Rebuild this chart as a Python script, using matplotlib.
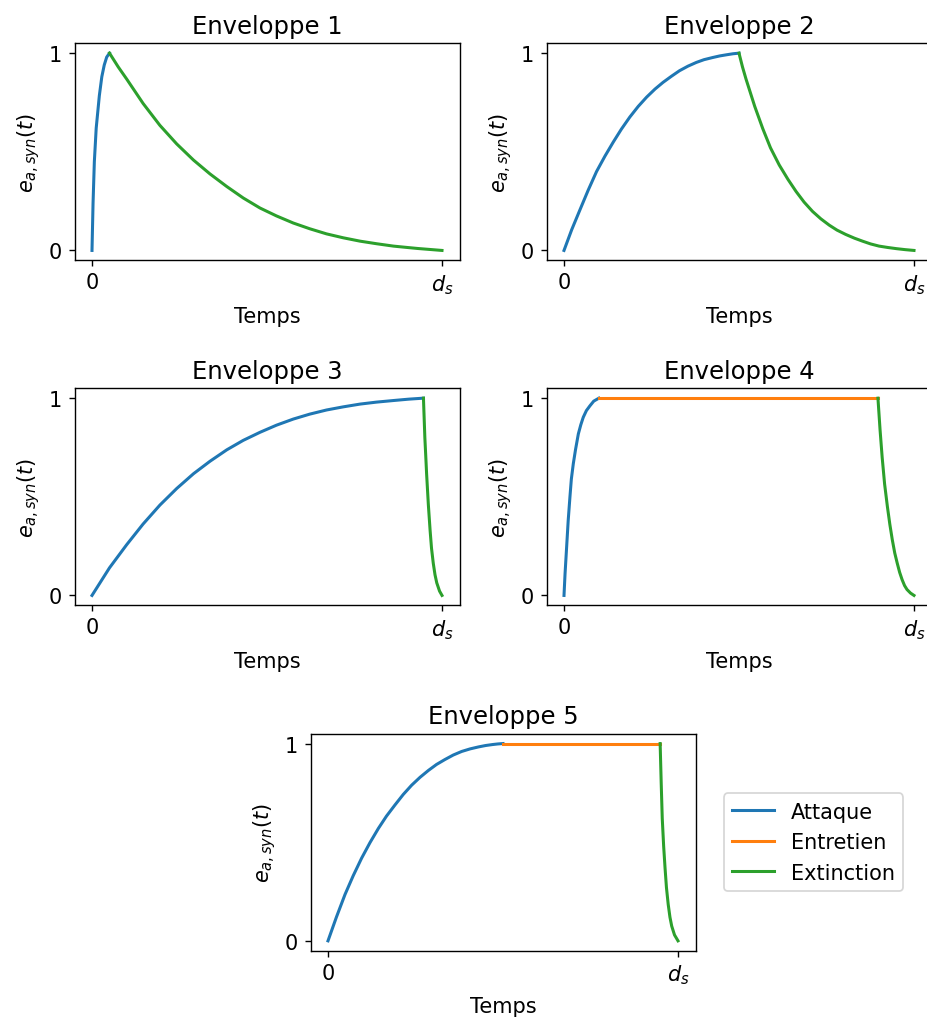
import matplotlib
matplotlib.use("Agg")
import matplotlib.pyplot as plt

# Valeurs (temps normalisé : 0 -> d_s = 1)
titres = ["Enveloppe 1", "Enveloppe 2", "Enveloppe 3", "Enveloppe 4", "Enveloppe 5"]

# Enveloppe 1
att1_t = [0, 0.003, 0.0067, 0.012, 0.021, 0.028, 0.035, 0.042, 0.05]
att1_e = [0, 0.24, 0.45, 0.62, 0.785, 0.88, 0.94, 0.98, 1.0]
ext1_t = [0.05, 0.075, 0.099, 0.146, 0.194, 0.242, 0.29, 0.337, 0.385, 0.432, 0.48, 0.527,
          0.575, 0.622, 0.67, 0.718, 0.766, 0.813, 0.861, 0.895, 0.93, 0.965, 1.0]
ext1_e = [1.0, 0.93, 0.869, 0.745, 0.634, 0.54, 0.458, 0.388, 0.324, 0.266, 0.215, 0.175,
          0.139, 0.11, 0.084, 0.064, 0.047, 0.034, 0.022, 0.016, 0.01, 0.005, 0.0]

# Enveloppe 2
att2_t = [0, 0.022, 0.0456, 0.069, 0.093, 0.117, 0.141, 0.164, 0.188, 0.212, 0.236, 0.26,
          0.283, 0.307, 0.33, 0.354, 0.378, 0.40, 0.425, 0.445, 0.465, 0.483, 0.5]
att2_e = [0, 0.105, 0.206, 0.305, 0.40, 0.478, 0.55, 0.615, 0.676, 0.73, 0.777, 0.818,
          0.852, 0.883, 0.911, 0.934, 0.953, 0.967, 0.978, 0.986, 0.992, 0.997, 1.0]
ext2_t = [0.5, 0.51, 0.52, 0.545, 0.568, 0.59, 0.615, 0.64, 0.663, 0.686, 0.71, 0.734,
          0.758, 0.78, 0.805, 0.83, 0.853, 0.876, 0.9, 0.925, 0.95, 0.975, 1.0]
ext2_e = [1.0, 0.93, 0.869, 0.73, 0.617, 0.52, 0.433, 0.36, 0.299, 0.245, 0.198, 0.16,
          0.128, 0.103, 0.081, 0.062, 0.047, 0.033, 0.022, 0.015, 0.009, 0.004, 0.0]

# Enveloppe 3
att3_t = [0, 0.05, 0.099, 0.146, 0.194, 0.242, 0.29, 0.337, 0.385, 0.432, 0.48, 0.527,
          0.575, 0.622, 0.67, 0.718, 0.766, 0.813, 0.861, 0.905, 0.947]
att3_e = [0, 0.14, 0.257, 0.362, 0.458, 0.542, 0.617, 0.68, 0.738, 0.786, 0.827, 0.863,
          0.894, 0.919, 0.94, 0.956, 0.97, 0.98, 0.988, 0.995, 1.0]
ext3_t = [0.947, 0.951, 0.9535, 0.956, 0.961, 0.966, 0.97, 0.975, 0.98, 0.985, 0.993, 1.0]
ext3_e = [1.0, 0.80, 0.71, 0.617, 0.46, 0.33, 0.24, 0.164, 0.105, 0.064, 0.022, 0.0]

# Enveloppe 4
att4_t = [0, 0.003, 0.0076, 0.012, 0.017, 0.021, 0.0266, 0.033, 0.041, 0.048, 0.055,
          0.064, 0.074, 0.085, 0.0997]
att4_e = [0, 0.11, 0.248, 0.38, 0.5, 0.59, 0.668, 0.74, 0.819, 0.865, 0.903,
          0.937, 0.961, 0.985, 1.0]
ent4_t = [0.0997, 0.897]
ent4_e = [1.0, 1.0]
ext4_t = [0.897, 0.903, 0.909, 0.916, 0.924, 0.931, 0.938, 0.945, 0.952, 0.959, 0.966,
          0.973, 0.98, 0.99, 1.0]
ext4_e = [1.0, 0.84, 0.701, 0.565, 0.45, 0.36, 0.282, 0.215, 0.164, 0.117, 0.08,
          0.05, 0.03, 0.012, 0.0]

# Enveloppe 5
att5_t = [0, 0.024, 0.0486, 0.072, 0.096, 0.12, 0.144, 0.167, 0.191, 0.215, 0.239, 0.263,
          0.287, 0.31, 0.334, 0.358, 0.382, 0.406, 0.43, 0.45, 0.47, 0.485, 0.5]
att5_e = [0, 0.12, 0.235, 0.33, 0.419, 0.498, 0.57, 0.632, 0.688, 0.742, 0.789, 0.829,
          0.864, 0.894, 0.919, 0.942, 0.96, 0.973, 0.983, 0.99, 0.995, 0.998, 1.0]
ent5_t = [0.5, 0.949]
ent5_e = [1.0, 1.0]
ext5_t = [0.949, 0.952, 0.955, 0.959, 0.963, 0.967, 0.972, 0.977, 0.982, 0.99, 1.0]
ext5_e = [1.0, 0.80, 0.621, 0.48, 0.369, 0.27, 0.185, 0.12, 0.075, 0.03, 0.0]

segments = [
    [(att1_t, att1_e, "Attaque"), (ext1_t, ext1_e, "Extinction")],
    [(att2_t, att2_e, "Attaque"), (ext2_t, ext2_e, "Extinction")],
    [(att3_t, att3_e, "Attaque"), (ext3_t, ext3_e, "Extinction")],
    [(att4_t, att4_e, "Attaque"), (ent4_t, ent4_e, "Entretien"), (ext4_t, ext4_e, "Extinction")],
    [(att5_t, att5_e, "Attaque"), (ent5_t, ent5_e, "Entretien"), (ext5_t, ext5_e, "Extinction")],
]
couleurs = {"Attaque": "tab:blue", "Entretien": "tab:orange", "Extinction": "tab:green"}

W, H = 927, 1021
fig = plt.figure(figsize=(W / 125, H / 125), dpi=125)

# positions des axes en pixels (gauche, haut)
pos = [(74.5, 44.3), (546.5, 44.3), (74.5, 389.3), (546.5, 389.3), (310.5, 734.7)]
lw_px, lh_px = 385, 217

axes = []
for i, (px, py) in enumerate(pos):
    ax = fig.add_axes([px / W, 1 - (py + lh_px) / H, lw_px / W, lh_px / H])
    for t, e, nom in segments[i]:
        ax.plot(t, e, color=couleurs[nom], lw=1.75, label=nom, solid_joinstyle="round")
    ax.set_title(titres[i], fontsize=14)
    ax.set_xticks([0, 1])
    ax.set_xticklabels(["0", "$d_s$"])
    ax.set_yticks([0, 1])
    ax.tick_params(labelsize=12)
    ax.set_xlabel("Temps", fontsize=12, labelpad=5.5)
    ax.set_ylabel("$e_{a,syn}(t)$", fontsize=12)
    axes.append(ax)

axes[4].legend(loc="center left", bbox_to_anchor=(1.047, 0.5), fontsize=12)

fig.savefig("out.png", dpi=125)
